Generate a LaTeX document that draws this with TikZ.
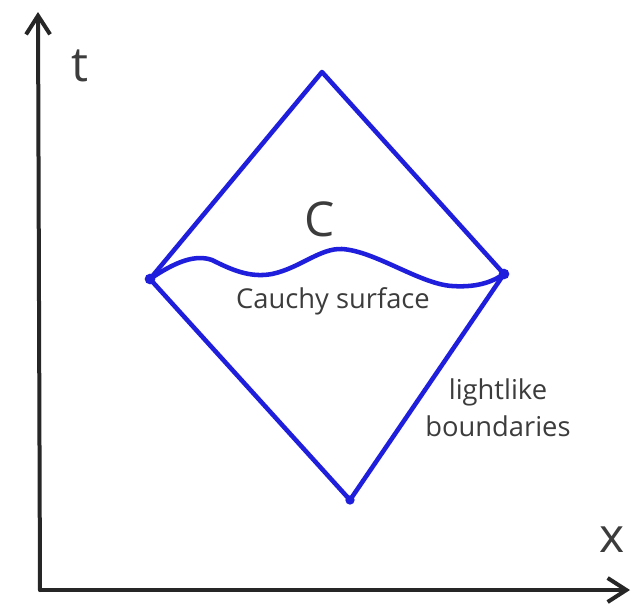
\documentclass[tikz,border=0pt]{standalone}
\usepackage{fontspec}
\setmainfont{Open Sans}
\usetikzlibrary{arrows.meta}
\definecolor{dblue}{RGB}{30,30,220}
\definecolor{txt}{RGB}{60,60,60}
\tikzset{
  axis/.style={line width=3pt, black!85, line cap=round},
  blueline/.style={line width=3.4pt, dblue, line join=round, line cap=round},
  lbl/.style={text=txt, inner sep=0pt, font=\fontsize{20.5}{28}\selectfont},
  big/.style={text=txt, inner sep=0pt, font=\fontsize{36}{40}\selectfont},
  dotm/.style={circle, fill=dblue, minimum size=8pt, inner sep=0pt},
}
\begin{document}
\begin{tikzpicture}[x=0.75pt,y=-0.75pt]
\useasboundingbox (0,0) rectangle (633,608);
\fill[white] (0,0) rectangle (633,608);
% axes
\coordinate (o) at (40,590);
\coordinate (tend) at (38,12);
\coordinate (xend) at (630,590);
\draw[axis,-{Straight Barb[length=14pt,width=18pt,line width=3pt]}] (o) -- (tend);
\draw[axis,-{Straight Barb[length=14pt,width=18pt,line width=3pt]}] (o) -- (xend);
\node[big] (tl) at (80,66) {t};
\node[big] (xl) at (612,540) {x};
% diamond
\node[dotm] (L) at (150,279) {};
\node[dotm] (R) at (504,274) {};
\coordinate (T) at (322,72);
\coordinate (B) at (350,500);
\node[dotm, minimum size=7pt] (Bd) at (B) {};
\draw[blueline] (L.center) -- (T) -- (R.center) -- (B) -- cycle;
% Cauchy surface
\draw[blueline] (L.center) .. controls (175,262) and (195,254) .. (212,260)
  .. controls (232,270) and (250,278) .. (272,274)
  .. controls (300,268) and (320,248) .. (342,249)
  .. controls (375,251) and (420,284) .. (452,286)
  .. controls (480,288) and (495,280) .. (R.center);
\node[big] (C) at (320,219) {C};
\node[lbl] (cs) at (333,301) {Cauchy surface};
\node[lbl, align=center] (lb) at (498,408) {lightlike\\boundaries};
\end{tikzpicture}
\end{document}
